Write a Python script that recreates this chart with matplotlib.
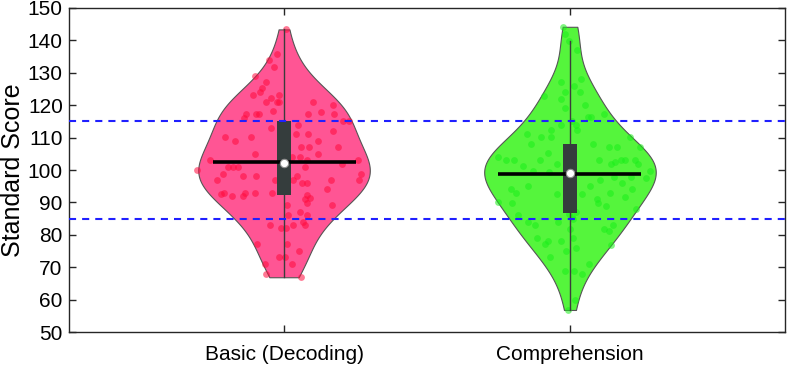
import numpy as np
import matplotlib
matplotlib.use("Agg")
import matplotlib.pyplot as plt
from matplotlib.patches import Rectangle

plt.rcParams["font.family"] = ["Liberation Sans", "DejaVu Sans"]

categories = ["Basic (Decoding)", "Comprehension"]

basic_scores = [
    143.4, 135.9, 134.0, 131.9, 129.1, 127.1, 125.2, 124.0, 123.1, 123.1,
    122.1, 121.1, 121.1, 121.1, 121.1, 120.1, 118.2, 117.2, 117.2, 117.2,
    117.2, 117.9, 117.2, 116.0, 115.0, 115.0, 113.1, 114.0, 112.1, 110.2,
    110.2, 109.1, 111.1, 111.1, 109.1, 107.2, 107.2, 107.2, 105.0, 105.0,
    104.0, 104.0, 103.0, 103.0, 103.0, 101.9, 100.9, 100.9, 100.9, 100.1,
    100.9, 98.9, 98.1, 98.1, 98.1, 98.9, 96.9, 96.9, 96.9, 96.9,
    96.9, 96.1, 96.1, 94.0, 92.9, 92.6, 92.9, 92.9, 92.9, 92.2,
    92.0, 92.0, 91.0, 91.5, 89.8, 89.1, 89.1, 86.0, 86.9, 86.0,
    83.1, 82.1, 82.1, 83.1, 84.0, 83.1, 77.2, 77.2, 75.1, 73.1,
    73.1, 71.0, 71.0, 67.9, 66.9, 110.0, 105.5, 103.5, 102.5, 112.0,
]
basic_jitter = [
    0.006, -0.023, -0.051, -0.035, -0.101, -0.063, -0.078, -0.084, -0.109, -0.016,
    -0.044, -0.063, -0.023, -0.016, 0.102, 0.172, -0.037, -0.133, -0.098, -0.087,
    0.085, 0.128, 0.175, -0.140, 0.207, 0.228, -0.045, 0.050, 0.172, -0.206,
    -0.115, -0.171, 0.042, 0.085, 0.118, 0.059, 0.088, 0.190, -0.101, 0.118,
    0.056, 0.027, -0.259, 0.081, 0.258, 0.202, -0.197, -0.177, -0.160, -0.303,
    0.073, -0.212, -0.142, -0.098, 0.044, 0.268, -0.235, -0.031, 0.033, 0.163,
    0.263, 0.062, 0.079, 0.149, -0.209, -0.222, -0.136, -0.101, -0.043, 0.079,
    -0.142, -0.183, 0.073, 0.091, 0.082, 0.167, 0.009, 0.013, 0.056, 0.081,
    -0.049, -0.012, 0.006, 0.033, 0.065, 0.073, -0.093, 0.009, 0.054, -0.016,
    0.003, 0.027, -0.066, -0.063, 0.058, 0.000, -0.010, 0.010, 0.000, 0.010,
]

comp_scores = [
    144.2, 142.0, 139.9, 137.0, 128.1, 127.1, 126.0, 124.2, 124.2, 122.9,
    122.0, 120.1, 119.0, 117.3, 116.4, 116.4, 115.2, 114.0, 114.0, 112.3,
    112.3, 111.1, 110.1, 110.1, 110.1, 108.0, 108.0, 107.2, 107.2, 107.2,
    105.1, 103.9, 103.0, 103.0, 101.2, 103.0, 101.9, 103.0, 101.9, 102.6,
    103.0, 103.0, 103.0, 101.9, 99.6, 99.6, 97.5, 99.4, 97.8, 96.1,
    97.8, 96.8, 95.1, 95.1, 94.0, 92.9, 92.7, 91.0, 93.0, 92.7,
    94.0, 91.8, 90.2, 89.9, 89.9, 88.9, 87.9, 86.0, 84.0, 83.1,
    84.0, 81.9, 84.8, 86.9, 81.9, 81.1, 83.1, 79.0, 78.0, 77.2,
    78.2, 79.0, 77.0, 73.1, 75.1, 75.9, 71.0, 68.9, 68.9, 67.9,
    60.0, 56.8, 100.5, 97.0, 94.0, 104.0, 90.0, 106.0, 102.0, 99.0,
    96.0, 86.5, 85.5,
]
comp_jitter = [
    -0.024, -0.016, -0.005, 0.024, 0.037, -0.033, 0.014, -0.019, 0.034, -0.092,
    -0.030, 0.053, -0.016, 0.119, 0.063, 0.074, 0.006, -0.030, 0.022, -0.067,
    0.024, -0.149, -0.103, -0.068, 0.209, -0.137, 0.080, 0.135, 0.165, 0.244,
    -0.076, -0.251, -0.225, -0.194, -0.165, -0.106, -0.044, 0.100, 0.144, 0.158,
    0.179, 0.191, 0.226, 0.238, -0.129, 0.279, 0.267, -0.074, 0.212, 0.182,
    0.154, 0.104, 0.069, -0.147, -0.205, -0.190, -0.044, 0.095, 0.139, 0.042,
    0.217, 0.193, -0.251, -0.204, 0.099, 0.126, 0.231, -0.182, -0.147, -0.123,
    -0.042, -0.001, 0.010, 0.022, 0.119, 0.136, 0.150, -0.114, -0.077, -0.088,
    -0.033, 0.010, 0.142, -0.071, -0.015, 0.022, 0.066, -0.016, 0.014, 0.042,
    0.016, -0.007, 0.000, -0.010, 0.010, 0.000, -0.005, 0.010, 0.005, -0.008,
    0.004, -0.004, 0.008,
]

y_ticks = list(range(50, 151, 10))
band_lines = [85, 115]

violin_colors = ["#ff5594", "#55f53c"]
point_colors = ["#ff0a3c", "#1aee1a"]
half_width = 0.30


def density_profile(values, n_grid=200):
    v = np.asarray(values, dtype=float)
    sig = np.median(np.abs(v - np.median(v))) / 0.6745
    bw = sig * (4.0 / (3.0 * len(v))) ** 0.2
    grid = np.linspace(v.min(), v.max(), n_grid)
    dens = np.exp(-0.5 * ((grid[:, None] - v[None, :]) / bw) ** 2).sum(axis=1)
    return grid, dens / dens.max()


fig = plt.figure(figsize=(7.87, 3.66), dpi=100)
ax = fig.add_axes([69 / 787, 34 / 366, 716 / 787, 324 / 366])

groups = [(basic_scores, basic_jitter), (comp_scores, comp_jitter)]
for i, (scores, jitter) in enumerate(groups):
    pos = i + 1
    v = np.asarray(scores, dtype=float)
    grid, dens = density_profile(v)
    ax.fill_betweenx(grid, pos - half_width * dens, pos + half_width * dens,
                     facecolor=violin_colors[i], edgecolor="#555555",
                     linewidth=0.8, zorder=1)
    ax.scatter(pos + np.asarray(jitter), v, s=24, color=point_colors[i],
               alpha=0.55, linewidths=0, zorder=2)

    q1, med, q3 = np.percentile(v, [25, 50, 75])
    iqr = q3 - q1
    upper = v[v <= q3 + 1.5 * iqr].max()
    lower = v[v >= q1 - 1.5 * iqr].min()
    ax.plot([pos, pos], [lower, upper], color="#3c3c3c", linewidth=1.0, zorder=3)
    ax.add_patch(Rectangle((pos - 0.026, q1), 0.052, q3 - q1,
                           facecolor="#353d3d", edgecolor="none", zorder=4))
    ax.plot([pos - 0.25, pos + 0.25], [v.mean(), v.mean()], color="black",
            linewidth=2.6, zorder=5, solid_capstyle="butt")
    ax.plot(pos, med, marker="o", markersize=6, markerfacecolor="white",
            markeredgecolor="#909090", markeredgewidth=0.8, zorder=6)

for y in band_lines:
    ax.axhline(y, color="#1f1fff", linewidth=1.5, linestyle=(0, (3.4, 2.9)),
               zorder=7)

ax.set_xlim(0.248, 2.752)
ax.set_ylim(50, 150)
ax.set_xticks([1, 2])
ax.set_xticklabels(categories)
ax.set_yticks(y_ticks)
ax.set_ylabel("Standard Score", fontsize=18, labelpad=2)
ax.tick_params(axis="both", direction="in", length=5, width=1,
               top=True, right=True, labelsize=15, colors="#262626",
               labelcolor="black")
ax.tick_params(axis="x", pad=9)
ax.tick_params(axis="y", pad=4.5)
for spine in ax.spines.values():
    spine.set_color("#262626")
    spine.set_linewidth(1.0)

fig.savefig("out.png", dpi=100)
